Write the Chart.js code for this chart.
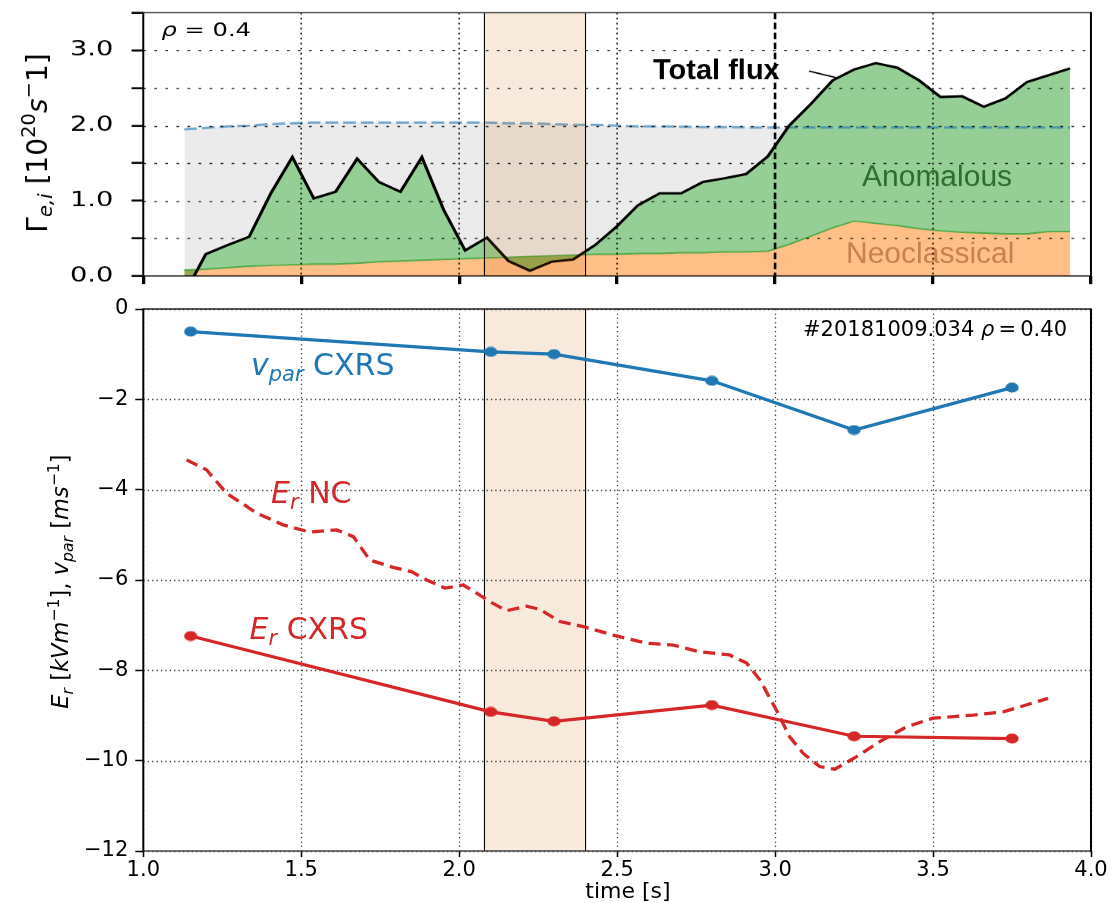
<!DOCTYPE html>
<html>
<head>
<meta charset="utf-8">
<script src="https://cdn.jsdelivr.net/npm/chart.js@4/dist/chart.umd.min.js"></script>
<style>
  html, body { margin: 0; padding: 0; background: #fff; }
  #wrap { position: relative; width: 1112px; height: 903px; overflow: hidden; background: #fff; }
  #erCanvas { position: absolute; left: 0; top: 290px; }
  #fluxCanvas { position: absolute; left: 0; top: 0; }
</style>
</head>
<body>
<div id="wrap">
  <canvas id="erCanvas" width="1112" height="613" style="width:1112px;height:613px"></canvas>
  <canvas id="fluxCanvas" width="856" height="300" style="width:1112px;height:300px"></canvas>
</div>
<script>
// ---------- particle flux at rho = 0.4 ----------
const fluxTime = [1.130, 1.198, 1.267, 1.335, 1.404, 1.472, 1.540, 1.609, 1.677, 1.746,
                  1.814, 1.882, 1.951, 2.019, 2.088, 2.156, 2.224, 2.293, 2.361, 2.430,
                  2.498, 2.566, 2.635, 2.703, 2.772, 2.840, 2.908, 2.977, 3.045, 3.114,
                  3.182, 3.250, 3.319, 3.387, 3.456, 3.524, 3.592, 3.661, 3.729, 3.798,
                  3.866, 3.934];
const totalFlux = [-0.24, 0.29, 0.41, 0.52, 1.10, 1.58, 1.03, 1.12, 1.56, 1.25,
                   1.12, 1.58, 0.88, 0.34, 0.51, 0.20, 0.07, 0.19, 0.22, 0.41,
                   0.655, 0.94, 1.10, 1.10, 1.25, 1.30, 1.355, 1.59, 2.00, 2.29,
                   2.60, 2.745, 2.83, 2.77, 2.60, 2.38, 2.39, 2.25, 2.36, 2.58,
                   2.67, 2.76];
const neoFlux = [0.08, 0.09, 0.11, 0.13, 0.14, 0.15, 0.16, 0.16, 0.17, 0.19,
                 0.20, 0.21, 0.22, 0.23, 0.24, 0.25, 0.26, 0.27, 0.28, 0.29,
                 0.29, 0.30, 0.30, 0.31, 0.31, 0.32, 0.32, 0.33, 0.42, 0.53,
                 0.64, 0.73, 0.70, 0.67, 0.63, 0.60, 0.58, 0.57, 0.56, 0.56,
                 0.59, 0.59];
const fluxLimit = [1.95, 1.97, 1.99, 2.00, 2.02, 2.03, 2.04, 2.04, 2.04, 2.04,
                   2.04, 2.04, 2.04, 2.04, 2.04, 2.03, 2.03, 2.02, 2.01, 2.01,
                   2.00, 1.99, 1.99, 1.985, 1.98, 1.98, 1.975, 1.975, 1.975, 1.975,
                   1.975, 1.975, 1.975, 1.975, 1.975, 1.975, 1.975, 1.975, 1.975, 1.975,
                   1.975, 1.975];

// ---------- radial electric field and parallel flow ----------
const cxrsTime = [1.15, 2.10, 2.30, 2.80, 3.25, 3.75];
const vparCXRS = [-0.50, -0.95, -1.00, -1.59, -2.68, -1.74];
const erCXRS = [-7.24, -8.92, -9.13, -8.77, -9.46, -9.51];
const erNCTime = [1.137, 1.200, 1.264, 1.359, 1.443, 1.527, 1.612, 1.665, 1.717, 1.791,
                  1.850, 1.897, 1.955, 2.013, 2.055, 2.097, 2.150, 2.213, 2.255, 2.319,
                  2.392, 2.487, 2.593, 2.677, 2.762, 2.856, 2.910, 2.952, 3.004, 3.046,
                  3.089, 3.141, 3.189, 3.258, 3.331, 3.416, 3.500, 3.627, 3.722, 3.864];
const erNC = [-3.34, -3.56, -4.08, -4.52, -4.78, -4.94, -4.89, -5.04, -5.56, -5.72,
              -5.82, -6.00, -6.18, -6.11, -6.29, -6.48, -6.68, -6.58, -6.65, -6.92,
              -7.03, -7.22, -7.40, -7.44, -7.59, -7.66, -7.84, -8.21, -8.88, -9.47,
              -9.84, -10.13, -10.19, -9.91, -9.58, -9.25, -9.06, -8.99, -8.92, -8.62];

const heatingWindow = [2.08, 2.40];   // shaded time window [s]
const transitionTime = 3.0;           // dashed marker in the flux panel [s]
const timeTicks = [1.0, 1.5, 2.0, 2.5, 3.0, 3.5, 4.0];

// ---------- styling ----------
const S = 1.3;  // horizontal stretch of the flux panel
const TAB_BLUE = '#1f77b4', TAB_RED = '#d62728';
const WINDOW_FILL = 'rgba(210,105,30,0.15)';
Chart.defaults.font.family = 'DejaVu Sans';
Chart.defaults.color = '#000';

const pts = (xs, ys) => xs.map((x, i) => ({x, y: ys[i]}));

function drawRuns(ctx, runs, x, y, size, opts) {
  const o = Object.assign({family: 'DejaVu Sans', color: '#000', align: 'left', angle: 0}, opts || {});
  ctx.save();
  ctx.translate(x, y);
  if (o.angle) ctx.rotate(o.angle);
  ctx.fillStyle = o.color;
  ctx.textBaseline = 'alphabetic';
  ctx.textAlign = 'left';
  const fontFor = r => `${r.it ? 'italic ' : ''}${r.pos ? size * 0.7 : size}px "${o.family}"`;
  let width = 0;
  const widths = runs.map(r => { ctx.font = fontFor(r); const w = ctx.measureText(r.t).width; width += w; return w; });
  let cx = o.align === 'center' ? -width / 2 : o.align === 'right' ? -width : 0;
  runs.forEach((r, i) => {
    ctx.font = fontFor(r);
    const dy = r.pos === 'sub' ? size * 0.2 : r.pos === 'sup' ? -size * 0.42 : 0;
    ctx.fillText(r.t, cx, dy);
    cx += widths[i];
  });
  ctx.restore();
}

function seg(ctx, x0, y0, x1, y1) { ctx.beginPath(); ctx.moveTo(x0, y0); ctx.lineTo(x1, y1); ctx.stroke(); }

function ellipseMarker(color) {
  const c = document.createElement('canvas');
  c.width = 14; c.height = 11;
  const g = c.getContext('2d');
  g.fillStyle = color;
  g.beginPath(); g.ellipse(7, 5.5, 6.6, 5.1, 0, 0, Math.PI * 2); g.fill();
  return c;
}

// keep the plot area exactly where the layout padding puts it
const noPadY = s => { s.paddingTop = 0; s.paddingBottom = 0; };
const noPadX = s => { s.paddingLeft = 0; s.paddingRight = 0; };

// ---------- flux panel decorations ----------
const fluxDecor = {
  id: 'fluxDecor',
  afterDatasetsDraw(chart) {
    const {ctx, chartArea: a, scales: {x, y}} = chart;
    ctx.save();
    ctx.beginPath(); ctx.rect(a.left, a.top, a.right - a.left, a.bottom - a.top); ctx.clip();

    const w0 = x.getPixelForValue(heatingWindow[0]), w1 = x.getPixelForValue(heatingWindow[1]);
    ctx.fillStyle = WINDOW_FILL;
    ctx.fillRect(w0, a.top, w1 - w0, a.bottom - a.top);
    ctx.strokeStyle = '#000'; ctx.lineWidth = 1.1 / S;
    seg(ctx, w0, a.top, w0, a.bottom); seg(ctx, w1, a.top, w1, a.bottom);

    // component labels and leader
    ctx.save();
    ctx.scale(1 / S, 1);
    ctx.textBaseline = 'alphabetic';
    ctx.font = '30px "Liberation Sans"';
    ctx.fillStyle = '#2c6e2c'; ctx.fillText('Anomalous', 862, 186);
    ctx.fillStyle = '#c8804f'; ctx.fillText('Neoclassical', 846, 263);
    ctx.font = 'bold 29px "Liberation Sans"';
    ctx.fillStyle = '#000'; ctx.fillText('Total flux', 653, 79);
    ctx.strokeStyle = '#000'; ctx.lineWidth = 1.4;
    seg(ctx, 809, 71, x.getPixelForValue(3.2) * S, y.getPixelForValue(2.63));
    ctx.restore();

    // grid
    ctx.strokeStyle = 'rgba(0,0,0,0.85)';
    ctx.lineWidth = 1.1;
    ctx.setLineDash([2.1, 6.4]);
    y.ticks.forEach(t => {
      if (t.value <= 0 || t.value >= 3.5) return;
      const py = Math.round(y.getPixelForValue(t.value)) + 0.5;
      seg(ctx, a.left, py, a.right, py);
    });
    ctx.lineWidth = 1.6 / S;
    ctx.setLineDash([1.7, 3.3]);
    x.ticks.forEach(t => {
      if (Math.abs(t.value - transitionTime) < 1e-6) return;
      const px = x.getPixelForValue(t.value);
      seg(ctx, px, a.top, px, a.bottom);
    });
    ctx.strokeStyle = '#000';
    ctx.lineWidth = 2.6 / S;
    ctx.setLineDash([6.5, 3.5]);
    const pt = x.getPixelForValue(transitionTime);
    seg(ctx, pt, a.top, pt, a.bottom);
    ctx.restore();

    // spines
    ctx.save();
    ctx.strokeStyle = '#333'; ctx.lineWidth = 1.3;
    seg(ctx, a.left, a.top, a.right, a.top);
    ctx.strokeStyle = '#000'; ctx.lineWidth = 1.2;
    seg(ctx, a.left, a.bottom, a.right, a.bottom);
    ctx.lineWidth = 2 / S;
    seg(ctx, a.left, a.top - 0.6, a.left, a.bottom);
    seg(ctx, a.right, a.top - 0.6, a.right, a.bottom);
    ctx.restore();
  },
  afterDraw(chart) {
    const {ctx} = chart;
    drawRuns(ctx, [{t: 'ρ', it: 1}, {t: ' = 0.4'}], 124.3, 36.5, 18.6);
    ctx.save();
    ctx.scale(1 / S, 1);
    drawRuns(ctx, [{t: 'Γ'}, {t: 'e,i', it: 1, pos: 'sub'}, {t: ' [10'}, {t: '20', pos: 'sup'},
                   {t: 's', it: 1}, {t: '\u2212', pos: 'sup'}, {t: '1]'}],
             46.5, 143, 28, {angle: -Math.PI / 2, align: 'center'});
    ctx.restore();
  }
};

new Chart(document.getElementById('fluxCanvas'), {
  type: 'line',
  data: {
    datasets: [
      { data: pts(fluxTime, fluxLimit),
        fill: { target: 2, above: 'rgba(128,128,128,0.16)', below: 'rgba(0,0,0,0)' },
        borderWidth: 0, pointRadius: 0, order: 5 },
      { data: pts(fluxTime, neoFlux), fill: 'origin', backgroundColor: 'rgba(255,127,14,0.5)',
        borderColor: 'rgba(44,160,44,0.75)', borderWidth: 1.5, pointRadius: 0, order: 4 },
      { data: pts(fluxTime, totalFlux), fill: 1, backgroundColor: 'rgba(44,160,44,0.5)',
        borderWidth: 0, pointRadius: 0, order: 3 },
      { data: pts(fluxTime, fluxLimit), fill: false, borderColor: 'rgba(31,119,180,0.62)',
        borderWidth: 2.3, borderDash: [9.8, 3.8], pointRadius: 0, order: 2 },
      { data: pts(fluxTime, totalFlux), fill: false, borderColor: '#000',
        borderWidth: 2.4, pointRadius: 0, order: 1, clip: 0 }
    ]
  },
  options: {
    responsive: false,
    devicePixelRatio: S,
    animation: false,
    events: [],
    layout: { padding: { left: 0, right: 16.8, top: 12.7, bottom: 0 } },
    plugins: { legend: { display: false }, tooltip: { enabled: false } },
    scales: {
      x: {
        type: 'linear', min: 1, max: 4,
        afterFit(s) { s.height = 24; noPadX(s); },
        afterBuildTicks(s) { s.ticks = timeTicks.map(v => ({value: v})); },
        ticks: { display: false },
        grid: { drawOnChartArea: false, tickLength: 8, tickWidth: 2.5, tickColor: '#000' },
        border: { display: false }
      },
      y: {
        min: 0, max: 3.5,
        afterFit(s) { s.width = 110.2; noPadY(s); },
        ticks: {
          stepSize: 0.5, padding: 14, color: '#000',
          font: { family: 'DejaVu Sans', size: 21 },
          callback: v => Number.isInteger(v) ? v.toFixed(1) : ''
        },
        grid: { drawOnChartArea: false, tickLength: 9, tickWidth: 2, tickColor: '#000' },
        border: { display: false }
      }
    }
  },
  plugins: [fluxDecor]
});

// ---------- Er / v_par panel decorations ----------
const erDecor = {
  id: 'erDecor',
  beforeDatasetsDraw(chart) {
    const {ctx, chartArea: a, scales: {x, y}} = chart;
    ctx.save();
    const w0 = x.getPixelForValue(heatingWindow[0]), w1 = x.getPixelForValue(heatingWindow[1]);
    ctx.fillStyle = WINDOW_FILL;
    ctx.fillRect(w0, a.top, w1 - w0, a.bottom - a.top);
    ctx.strokeStyle = 'rgba(0,0,0,0.75)';
    ctx.lineWidth = 1.3;
    ctx.setLineDash([1.3, 3.1]);
    x.ticks.forEach(t => {
      const px = Math.round(x.getPixelForValue(t.value)) + 0.5;
      seg(ctx, px, a.top, px, a.bottom);
    });
    y.ticks.forEach(t => {
      const py = Math.round(y.getPixelForValue(t.value)) + 0.5;
      seg(ctx, a.left, py, a.right, py);
    });
    ctx.setLineDash([]);
    ctx.strokeStyle = '#000'; ctx.lineWidth = 1.1;
    seg(ctx, w0, a.top, w0, a.bottom); seg(ctx, w1, a.top, w1, a.bottom);
    ctx.restore();
  },
  afterDatasetsDraw(chart) {
    const {ctx, chartArea: a} = chart;
    ctx.save();
    ctx.strokeStyle = '#222'; ctx.lineWidth = 1.3;
    seg(ctx, a.left, a.top, a.right, a.top);
    ctx.strokeStyle = '#444';
    seg(ctx, a.left, a.bottom, a.right, a.bottom);
    ctx.strokeStyle = '#000'; ctx.lineWidth = 2;
    seg(ctx, a.left, a.top - 0.6, a.left, a.bottom + 0.6);
    seg(ctx, a.right, a.top - 0.6, a.right, a.bottom + 0.6);
    ctx.restore();

    drawRuns(ctx, [{t: '#20181009.034 '}, {t: 'ρ', it: 1}, {t: '\u2009=\u20090.40'}], 1067, 46, 21, {align: 'right'});
    drawRuns(ctx, [{t: 'v', it: 1}, {t: 'par', it: 1, pos: 'sub'}, {t: ' CXRS'}], 251, 85, 30, {color: TAB_BLUE});
    drawRuns(ctx, [{t: 'E', it: 1}, {t: 'r', it: 1, pos: 'sub'}, {t: ' NC'}], 271, 212.7, 30, {color: TAB_RED});
    drawRuns(ctx, [{t: 'E', it: 1}, {t: 'r', it: 1, pos: 'sub'}, {t: ' CXRS'}], 249.5, 349.3, 30, {color: TAB_RED});
  },
  afterDraw(chart) {
    const {ctx} = chart;
    drawRuns(ctx, [{t: 'E', it: 1}, {t: 'r', it: 1, pos: 'sub'}, {t: ' ['}, {t: 'kVm', it: 1},
                   {t: '\u22121', pos: 'sup'}, {t: '], '}, {t: 'v', it: 1}, {t: 'par', it: 1, pos: 'sub'},
                   {t: ' ['}, {t: 'ms', it: 1}, {t: '\u22121', pos: 'sup'}, {t: ']'}],
             68, 291.5, 22.5, {angle: -Math.PI / 2, align: 'center'});
    drawRuns(ctx, [{t: 'time [s]'}], 628, 608, 22, {align: 'center'});
  }
};

new Chart(document.getElementById('erCanvas'), {
  type: 'line',
  data: {
    datasets: [
      { data: pts(cxrsTime, vparCXRS), borderColor: TAB_BLUE, borderWidth: 3.2, fill: false,
        pointStyle: ellipseMarker(TAB_BLUE), pointRadius: 6, order: 1 },
      { data: pts(cxrsTime, erCXRS), borderColor: TAB_RED, borderWidth: 3.2, fill: false,
        pointStyle: ellipseMarker(TAB_RED), pointRadius: 6, order: 2 },
      { data: pts(erNCTime, erNC), borderColor: TAB_RED, borderWidth: 3.3, borderDash: [12, 6.5],
        fill: false, pointRadius: 0, order: 3 }
    ]
  },
  options: {
    responsive: false,
    animation: false,
    events: [],
    layout: { padding: { left: 0, right: 21, top: 19, bottom: 0 } },
    plugins: { legend: { display: false }, tooltip: { enabled: false } },
    scales: {
      x: {
        type: 'linear', min: 1, max: 4,
        afterFit(s) { s.height = 52; noPadX(s); },
        afterBuildTicks(s) { s.ticks = timeTicks.map(v => ({value: v})); },
        ticks: { padding: 1, color: '#000', font: { family: 'DejaVu Sans', size: 21 },
                 autoSkip: false, maxRotation: 0, callback: v => v.toFixed(1) },
        grid: { drawOnChartArea: false, tickLength: 6, tickWidth: 1.5, tickColor: '#000' },
        border: { display: false }
      },
      y: {
        min: -12, max: 0,
        afterFit(s) { s.width = 143.3; noPadY(s); },
        ticks: { stepSize: 2, padding: 7, color: '#000', font: { family: 'DejaVu Sans', size: 21 },
                 callback: v => v === 0 ? '0' : '\u2212' + Math.abs(v) },
        grid: { drawOnChartArea: false, tickLength: 8, tickWidth: 1.5, tickColor: '#000' },
        border: { display: false }
      }
    }
  },
  plugins: [erDecor]
});
</script>
</body>
</html>
